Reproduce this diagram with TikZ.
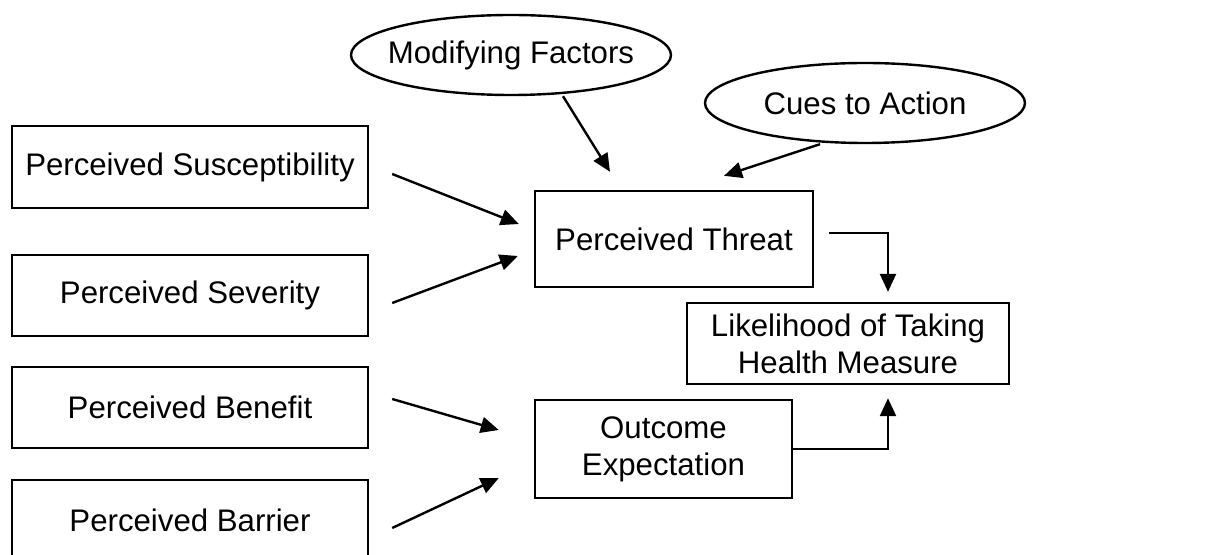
\documentclass[tikz,border=0pt]{standalone}
\usepackage{fontspec}
\setmainfont{Liberation Sans}
\usetikzlibrary{shapes.geometric,arrows.meta,calc}
\begin{document}
\begin{tikzpicture}[x=0.5pt,y=-0.5pt,
  every node/.style={font=\fontsize{15.6}{18.5}\selectfont},
  box/.style={draw,line width=1.2pt,rectangle,inner sep=0pt,align=center},
  oval/.style={draw,line width=1.2pt,ellipse,inner sep=0pt,minimum width=160pt,minimum height=40pt},
  conn/.style={line width=1.2pt,-{Triangle[length=9pt,width=8pt]}}]
\clip (0,0) rectangle (1212,555);
\fill[white] (0,0) rectangle (1212,555);
% left boxes
\node[box,minimum width=178pt,minimum height=41pt] (sus) at (190,167) {Perceived Susceptibility};
\node[box,minimum width=178pt,minimum height=40.5pt] (sev) at (190,295.5) {Perceived Severity};
\node[box,minimum width=178pt,minimum height=40.5pt] (ben) at (190,407.5) {Perceived Benefit};
\node[box,minimum width=178pt,minimum height=40pt] (bar) at (190,520) {Perceived Barrier};
% middle boxes
\node[box,minimum width=139pt,minimum height=48pt] (threat) at (674,239) {Perceived Threat};
\node[box,minimum width=128.5pt,minimum height=49pt] (out) at (663.5,449) {Outcome\\Expectation};
\node[box,minimum width=161pt,minimum height=40.5pt] (like) at (848,343.5) {Likelihood of Taking\\Health Measure};
% ovals
\node[oval] (mod) at (511,55) {\makebox[0pt]{Modifying Factors}};
\node[oval] (cues) at (865,103) {\makebox[0pt]{Cues to Action}};
% connectors
\draw[conn] ($(sus.east)+(23,7)$) -- ($(threat.west)+(-15,-15)$);
\draw[conn] ($(sev.east)+(23,7.5)$) -- ($(threat.west)+(-16,17)$);
\draw[conn] ($(ben.east)+(23,-8.5)$) -- ($(out.west)+(-35,-19)$);
\draw[conn] ($(bar.east)+(23,8)$) -- ($(out.west)+(-35,29)$);
\draw[conn] ($(mod.south)+(52,0)$) -- ($(threat.north)+(-64,-18)$);
\draw[conn] ($(cues.south)+(-45,0)$) -- ($(threat.north)+(50,-14)$);
\draw[conn] ($(threat.east)+(15,-6)$) -| ($(like.north)+(40,-10)$);
\draw[conn] (out.east) -| ($(like.south)+(40,13)$);
\end{tikzpicture}
\end{document}
